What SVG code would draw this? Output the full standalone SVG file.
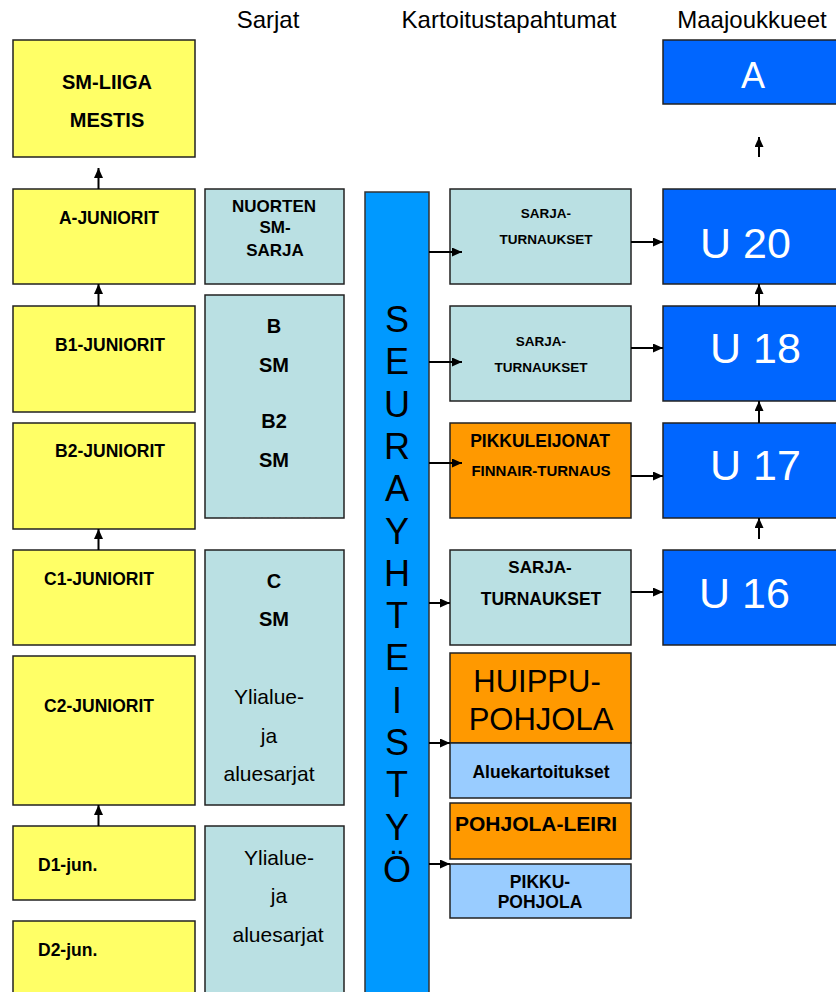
<svg xmlns="http://www.w3.org/2000/svg" width="836" height="992" viewBox="0 0 836 992">
<defs>
<style>
text{font-family:"Liberation Sans",Arial,sans-serif;fill:#000}
.b{font-weight:bold}
.m{text-anchor:middle}
.w{fill:#fff}
.box{stroke:#222;stroke-width:1.5}
.yl{fill:#FFFF66}
.lb{fill:#BAE0E3}
.or{fill:#FF9900}
.sk{fill:#99CCFF}
.bl{fill:#0066FF}
.bar{fill:#0099FF;stroke:#333;stroke-width:1.5}
.c{stroke:#000;stroke-width:2;fill:none;marker-end:url(#ah)}
</style>
<marker id="ah" viewBox="0 0 10 10" refX="10" refY="5" markerWidth="10" markerHeight="9" markerUnits="userSpaceOnUse" orient="auto" preserveAspectRatio="none"><path d="M0,0 L10,5 L0,10 z" fill="#000"/></marker>
</defs>
<rect width="836" height="992" fill="#fff"/>

<g id="headers">
<text x="268" y="28" class="m" font-size="24">Sarjat</text>
<text x="509" y="28" class="m" font-size="24">Kartoitustapahtumat</text>
<text x="752" y="28" class="m" font-size="24">Maajoukkueet</text>
</g>

<g id="smliiga"><rect class="box yl" x="13" y="40" width="182" height="117"/>
<text x="107" y="89" class="m b" font-size="20">SM-LIIGA</text>
<text x="107" y="127" class="m b" font-size="20">MESTIS</text></g>
<g id="ajun"><rect class="box yl" x="13" y="189" width="182" height="95"/>
<text x="109" y="224" class="m b" font-size="17.5">A-JUNIORIT</text></g>
<g id="b1jun"><rect class="box yl" x="13" y="306" width="182" height="106"/>
<text x="110" y="351" class="m b" font-size="17.5">B1-JUNIORIT</text></g>
<g id="b2jun"><rect class="box yl" x="13" y="423" width="182" height="106"/>
<text x="110" y="457" class="m b" font-size="17.5">B2-JUNIORIT</text></g>
<g id="c1jun"><rect class="box yl" x="13" y="550" width="182" height="95"/>
<text x="99" y="585" class="m b" font-size="17.5">C1-JUNIORIT</text></g>
<g id="c2jun"><rect class="box yl" x="13" y="656" width="182" height="149"/>
<text x="99" y="712" class="m b" font-size="17.5">C2-JUNIORIT</text></g>
<g id="d1jun"><rect class="box yl" x="13" y="826" width="182" height="74"/>
<text x="38" y="871" class="b" font-size="17.5">D1-jun.</text></g>
<g id="d2jun"><rect class="box yl" x="13" y="921" width="182" height="80"/>
<text x="38" y="956" class="b" font-size="17.5">D2-jun.</text></g>

<g id="nuorten"><rect class="box lb" x="205" y="189" width="139" height="95"/>
<text x="274" y="212" class="m b" font-size="17">NUORTEN</text>
<text x="275" y="233" class="m b" font-size="17">SM-</text>
<text x="275" y="256" class="m b" font-size="17">SARJA</text></g>
<g id="bsm"><rect class="box lb" x="205" y="295" width="139" height="223"/>
<text x="274" y="333" class="m b" font-size="20">B</text>
<text x="274" y="372" class="m b" font-size="20">SM</text>
<text x="274" y="428" class="m b" font-size="20">B2</text>
<text x="274" y="467" class="m b" font-size="20">SM</text>
<line x1="227" y1="517.5" x2="323" y2="517.5" stroke="#555" stroke-width="1" stroke-dasharray="4,2"/></g>
<g id="csm"><rect class="box lb" x="205" y="550" width="139" height="255"/>
<text x="274" y="588" class="m b" font-size="20">C</text>
<text x="274" y="626" class="m b" font-size="20">SM</text>
<text x="269" y="704" class="m" font-size="21">Ylialue-</text>
<text x="269" y="743" class="m" font-size="21">ja</text>
<text x="269" y="781" class="m" font-size="21">aluesarjat</text></g>
<g id="dsarja"><rect class="box lb" x="205" y="826" width="139" height="175"/>
<text x="279" y="865" class="m" font-size="21">Ylialue-</text>
<text x="279" y="903" class="m" font-size="21">ja</text>
<text x="278" y="942" class="m" font-size="21">aluesarjat</text></g>

<g id="seurayhteistyo"><rect class="bar" x="365" y="192" width="64" height="810"/>
<g font-size="36" class="m">
<text x="397" y="332" class="m">S</text>
<text x="397" y="374" class="m">E</text>
<text x="397" y="417" class="m">U</text>
<text x="397" y="459" class="m">R</text>
<text x="397" y="501" class="m">A</text>
<text x="397" y="544" class="m">Y</text>
<text x="397" y="586" class="m">H</text>
<text x="397" y="628" class="m">T</text>
<text x="397" y="670" class="m">E</text>
<text x="397" y="713" class="m">I</text>
<text x="397" y="755" class="m">S</text>
<text x="397" y="797" class="m">T</text>
<text x="397" y="840" class="m">Y</text>
<text x="397" y="882" class="m">Ö</text>
</g></g>

<g id="sarjaturn1"><rect class="box lb" x="450" y="189" width="181" height="95"/>
<text x="546" y="218" class="m b" font-size="13.5">SARJA-</text>
<text x="546" y="244" class="m b" font-size="13.5">TURNAUKSET</text></g>
<g id="sarjaturn2"><rect class="box lb" x="450" y="306" width="181" height="95"/>
<text x="541" y="346" class="m b" font-size="13.5">SARJA-</text>
<text x="541" y="372" class="m b" font-size="13.5">TURNAUKSET</text></g>
<g id="pikkuleijonat"><rect class="box or" x="450" y="423" width="181" height="95"/>
<text x="540" y="447" class="m b" font-size="17.5">PIKKULEIJONAT</text>
<text x="541" y="476" class="m b" font-size="15">FINNAIR-TURNAUS</text></g>
<g id="sarjaturn3"><rect class="box lb" x="450" y="550" width="181" height="95"/>
<text x="540" y="573" class="m b" font-size="17">SARJA-</text>
<text x="541" y="605" class="m b" font-size="17.5">TURNAUKSET</text></g>
<g id="huippupohjola"><rect class="box or" x="450" y="653" width="181" height="90"/>
<text x="537" y="692" class="m" font-size="31">HUIPPU-</text>
<text x="541" y="730" class="m" font-size="31">POHJOLA</text></g>
<g id="aluekartoitukset"><rect class="box sk" x="450" y="743" width="181" height="55"/>
<text x="541" y="778" class="m b" font-size="17.5">Aluekartoitukset</text></g>
<g id="pohjolaleiri"><rect class="box or" x="450" y="803" width="181" height="56"/>
<text x="455" y="831" class="b" font-size="21">POHJOLA-LEIRI</text></g>
<g id="pikkupohjola"><rect class="box sk" x="450" y="864" width="181" height="54"/>
<text x="540" y="888" class="m b" font-size="17.5">PIKKU-</text>
<text x="540" y="908" class="m b" font-size="17.5">POHJOLA</text></g>

<g id="a"><rect class="box bl" x="663" y="40" width="180" height="64"/>
<text x="753" y="88" class="m w" font-size="36">A</text></g>
<g id="u20"><rect class="box bl" x="663" y="189" width="180" height="95"/>
<text x="700" y="258" class="w" font-size="43">U 20</text></g>
<g id="u18"><rect class="box bl" x="663" y="306" width="180" height="95"/>
<text x="710" y="363" class="w" font-size="43">U 18</text></g>
<g id="u17"><rect class="box bl" x="663" y="423" width="180" height="95"/>
<text x="710" y="480" class="w" font-size="43">U 17</text></g>
<g id="u16"><rect class="box bl" x="663" y="550" width="180" height="95"/>
<text x="699" y="608" class="w" font-size="43">U 16</text></g>

<g id="connectors">
<path class="c" d="M98.5,189 V168"/>
<path class="c" d="M98.5,306 V284"/>
<path class="c" d="M98.5,550 V529"/>
<path class="c" d="M98.5,826 V805"/>
<path class="c" d="M759,157 V137"/>
<path class="c" d="M759,306 V284"/>
<path class="c" d="M759,423 V401"/>
<path class="c" d="M759,539 V518"/>
<path class="c" d="M429,252 H462"/>
<path class="c" d="M429,362 H462"/>
<path class="c" d="M429,463 H462"/>
<path class="c" d="M429,603 H450"/>
<path class="c" d="M429,743 H450"/>
<path class="c" d="M429,864 H450"/>
<path class="c" d="M631,242 H663"/>
<path class="c" d="M631,348 H663"/>
<path class="c" d="M631,476 H663"/>
<path class="c" d="M631,592 H663"/>
</g>
</svg>
